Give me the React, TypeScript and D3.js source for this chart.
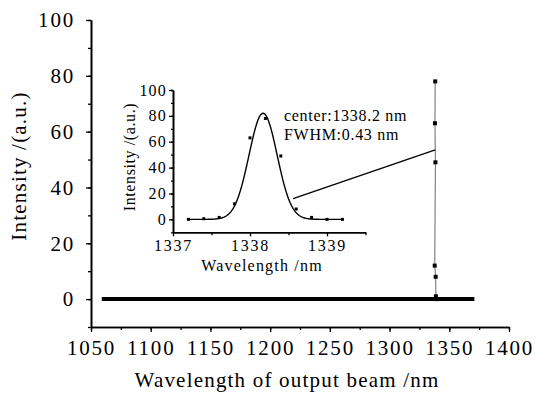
import { useEffect, useRef } from "react";
import * as d3 from "d3";

// inset spectrum (measured points)
const insetWl = [1337.2, 1337.4, 1337.6, 1337.8, 1338.0, 1338.2, 1338.4, 1338.6, 1338.8, 1339.0, 1339.2];
const insetI = [0, 0.5, 1.5, 12, 63, 78, 49, 8, 1.5, 0, 0];
// gaussian fit
const fitCenter = 1338.17;
const fitFwhm = 0.43;
const fitAmp = 82;
const fitRange = [1337.2, 1339.2];
// main spectrum baseline (flat zero over the scan)
const baseWl = [1059, 1150, 1250, 1337, 1339, 1371];
const baseI = [0, 0, 0, 0, 0, 0];
// main spectrum peak (same points, squeezed on the wide axis)
const peakWl = [1338.2, 1338.0, 1338.4, 1337.8, 1338.6, 1338.8, 1339.0];
const peakI = [78, 63, 49, 12, 8, 1, 0];
// connector: from inset (wl, I) to main (wl, I)
const connectorInset = [1338.56, 16];
const connectorMain = [1338.2, 53.5];

const mainXTicks = [1050, 1100, 1150, 1200, 1250, 1300, 1350, 1400];
const mainYTicks = [0, 20, 40, 60, 80, 100];
const insetXTicks = [1337, 1338, 1339];
const insetYTicks = [0, 20, 40, 60, 80, 100];

const FONT = "'Liberation Serif', 'DejaVu Serif', serif";

export default function App() {
  const svgRef = useRef<SVGSVGElement>(null);

  useEffect(() => {
    const svg = d3.select(svgRef.current);
    svg.selectAll("*").remove();

    const x = d3.scaleLinear().domain([1050, 1400]).range([91, 509]);
    const y = d3.scaleLinear().domain([-10, 100]).range([327, 20]);
    const fmt = d3.format("d");

    const styleAxis = (g, fs, ls) => {
      g.select(".domain").attr("stroke", "#000").attr("stroke-width", 1.6);
      g.selectAll(".tick line").attr("stroke", "#000").attr("stroke-width", 1.3);
      g.selectAll("text")
        .attr("fill", "#000")
        .style("font-family", FONT)
        .style("font-size", fs + "px")
        .style("letter-spacing", ls + "px");
    };

    // main axes - minor first
    svg.append("g")
      .attr("transform", `translate(0,327)`)
      .call(d3.axisBottom(x).tickValues(d3.range(1050, 1401, 25)).tickSize(3).tickFormat(() => "").tickSizeOuter(0))
      .call(g => styleAxis(g, 20, 1.5));
    svg.append("g")
      .attr("transform", `translate(0,327)`)
      .call(d3.axisBottom(x).tickValues(mainXTicks).tickSize(5).tickPadding(8).tickSizeOuter(0).tickFormat(fmt))
      .call(g => styleAxis(g, 21, 1.8));
    svg.append("g")
      .attr("transform", `translate(91,0)`)
      .call(d3.axisLeft(y).tickValues(d3.range(-10, 101, 10)).tickSize(3).tickFormat(() => "").tickSizeOuter(0))
      .call(g => styleAxis(g, 20, 1.5));
    svg.append("g")
      .attr("transform", `translate(91,0)`)
      .call(d3.axisLeft(y).tickValues(mainYTicks).tickSize(5).tickPadding(11).tickSizeOuter(0).tickFormat(fmt))
      .call(g => styleAxis(g, 21, 1.8));

    svg.append("text")
      .attr("x", 287).attr("y", 387)
      .attr("text-anchor", "middle")
      .style("font-family", FONT).style("font-size", "21px").style("letter-spacing", "1.2px")
      .text("Wavelength of output beam /nm");
    svg.append("text")
      .attr("transform", "translate(26,166) rotate(-90)")
      .attr("text-anchor", "middle")
      .style("font-family", FONT).style("font-size", "21px").style("letter-spacing", "1.2px")
      .text("Intensity /(a.u.)");

    // main data
    const line = d3.line<number>().x((d, i) => x(baseWl[i])).y((d) => y(d));
    svg.append("path")
      .attr("d", line(baseI))
      .attr("fill", "none").attr("stroke", "#000").attr("stroke-width", 4);

    const peakLine = d3.line<number>().x((d, i) => x(peakWl[i])).y(d => y(d));
    svg.append("path")
      .attr("d", peakLine(peakI))
      .attr("fill", "none").attr("stroke", "#777").attr("stroke-width", 1.1);
    svg.selectAll(".pk").data(peakI).enter().append("rect")
      .attr("x", (d, i) => x(peakWl[i]) - 2)
      .attr("y", d => y(d) - 2)
      .attr("width", 4).attr("height", 4).attr("fill", "#000");

    // inset
    const ix = d3.scaleLinear().domain([1337, 1339.5]).range([173, 365.5]);
    const iy = d3.scaleLinear().domain([-10, 100]).range([232.3, 90]);

    svg.append("g")
      .attr("transform", `translate(0,232.3)`)
      .call(d3.axisBottom(ix).tickValues([1337.5, 1338.5, 1339.5]).tickSize(3).tickFormat(() => "").tickSizeOuter(0))
      .call(g => styleAxis(g, 15, 1.5));
    svg.append("g")
      .attr("transform", `translate(0,232.3)`)
      .call(d3.axisBottom(ix).tickValues(insetXTicks).tickSize(4).tickPadding(3).tickSizeOuter(0).tickFormat(fmt))
      .call(g => styleAxis(g, 16, 1.8));
    svg.append("g")
      .attr("transform", `translate(173,0)`)
      .call(d3.axisLeft(iy).tickValues(d3.range(-10, 101, 10)).tickSize(2).tickFormat(() => "").tickSizeOuter(0))
      .call(g => styleAxis(g, 15, 1.5));
    svg.append("g")
      .attr("transform", `translate(173,0)`)
      .call(d3.axisLeft(iy).tickValues(insetYTicks).tickSize(4).tickPadding(2).tickSizeOuter(0).tickFormat(fmt))
      .call(g => styleAxis(g, 16, 1.2));

    svg.append("text")
      .attr("x", 262).attr("y", 271)
      .attr("text-anchor", "middle")
      .style("font-family", FONT).style("font-size", "16px").style("letter-spacing", "1.2px")
      .text("Wavelength /nm");
    svg.append("text")
      .attr("transform", "translate(135,157) rotate(-90)")
      .attr("text-anchor", "middle")
      .style("font-family", FONT).style("font-size", "16px").style("letter-spacing", "0.6px")
      .text("Intensity /(a.u.)");

    const gauss = (w: number) => {
      const s = fitFwhm / 2.3548;
      return fitAmp * Math.exp(-((w - fitCenter) ** 2) / (2 * s * s));
    };
    const fitWl = d3.range(fitRange[0], fitRange[1] + 0.001, 0.01);
    svg.append("path")
      .attr("d", d3.line<number>().x(d => ix(d)).y(d => iy(gauss(d)))(fitWl))
      .attr("fill", "none").attr("stroke", "#000").attr("stroke-width", 1.4);
    svg.selectAll(".ip").data(insetI).enter().append("rect")
      .attr("x", (d, i) => ix(insetWl[i]) - 1.5)
      .attr("y", d => iy(d) - 1.5)
      .attr("width", 3).attr("height", 3).attr("fill", "#000");

    svg.append("text")
      .attr("x", 284).attr("y", 121)
      .style("font-family", FONT).style("font-size", "16px").style("letter-spacing", "0.7px")
      .text("center:1338.2 nm");
    svg.append("text")
      .attr("x", 284).attr("y", 140)
      .style("font-family", FONT).style("font-size", "16px").style("letter-spacing", "0.7px")
      .text("FWHM:0.43 nm");

    svg.append("line")
      .attr("x1", ix(connectorInset[0])).attr("y1", iy(connectorInset[1]))
      .attr("x2", x(connectorMain[0])).attr("y2", y(connectorMain[1]))
      .attr("stroke", "#000").attr("stroke-width", 1.3);
  }, []);

  return (
    <svg
      ref={svgRef}
      width={536}
      height={394}
      style={{ position: "absolute", left: 0, top: 0, background: "#fff" }}
    />
  );
}
